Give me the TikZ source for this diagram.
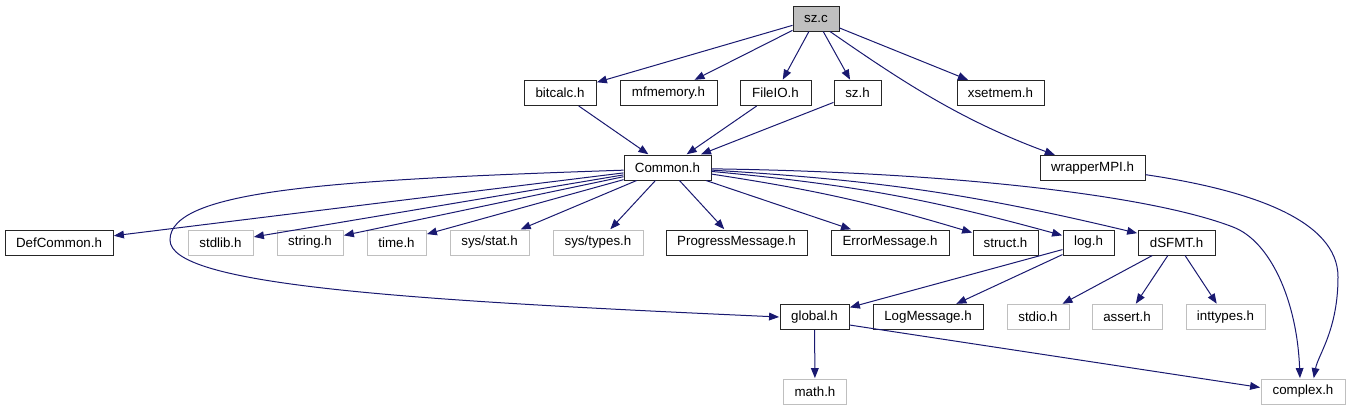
\documentclass[tikz,border=0pt]{standalone}
\usepackage{fontspec}
\setmainfont{Liberation Sans}
\usetikzlibrary{arrows.meta}
\definecolor{edgeblue}{HTML}{191970}
\definecolor{sysgray}{HTML}{BFBFBF}
\begin{document}
\begin{tikzpicture}[x=0.75pt,y=-0.75pt,
  nb/.style={draw=black!85, line width=0.75pt, fill=white, inner sep=0pt, minimum height=18.75pt, font=\fontsize{10}{12}\selectfont},
  sysb/.style={nb, draw=sysgray},
  rootb/.style={nb, fill=sysgray},
  ed/.style={draw=edgeblue, line width=0.75pt, -{Triangle[length=7.5pt,width=5.8pt]}, shorten >=0.3pt}
]
\useasboundingbox (0,0) rectangle (1350,411);
% nodes
\node[rootb, minimum width=34.5pt] (szc) at (816,18.5) {sz.c};
\node[nb, minimum width=54pt] (bitcalc) at (560,93) {bitcalc.h};
\node[nb, minimum width=72.75pt] (mfmemory) at (668.5,93) {mfmemory.h};
\node[nb, minimum width=53.25pt] (fileio) at (775.5,93) {FileIO.h};
\node[nb, minimum width=35.25pt] (szh) at (857.5,93) {sz.h};
\node[nb, minimum width=65.25pt] (xsetmem) at (1000.5,93) {xsetmem.h};
\node[nb, minimum width=65.25pt] (common) at (667.5,167.5) {Common.h};
\node[nb, minimum width=78.75pt] (wrapper) at (1092.5,168) {wrapperMPI.h};
\node[nb, minimum width=81pt] (defcommon) at (59,242.5) {DefCommon.h};
\node[sysb, minimum width=48.75pt] (stdlib) at (220.5,242.5) {stdlib.h};
\node[sysb, minimum width=49.5pt] (string) at (310,242.5) {string.h};
\node[sysb, minimum width=44.25pt] (time) at (396.5,242.5) {time.h};
\node[sysb, minimum width=59.25pt] (sysstat) at (489.5,242.5) {sys/stat.h};
\node[sysb, minimum width=67.5pt] (systypes) at (598,242.5) {sys/types.h};
\node[nb, minimum width=105.75pt] (progress) at (736.5,242.5) {ProgressMessage.h};
\node[nb, minimum width=88.5pt] (error) at (890,242.5) {ErrorMessage.h};
\node[nb, minimum width=48.75pt] (struct) at (1005.5,242.5) {struct.h};
\node[nb, minimum width=38.25pt] (log) at (1088.5,242.5) {log.h};
\node[nb, minimum width=57.75pt] (dsfmt) at (1176.5,242.5) {dSFMT.h};
\node[nb, minimum width=51.75pt] (global) at (814.5,317) {global.h};
\node[nb, minimum width=82.5pt] (logmsg) at (928,317) {LogMessage.h};
\node[sysb, minimum width=46.5pt] (stdio) at (1038,317) {stdio.h};
\node[sysb, minimum width=52.5pt] (assert) at (1127,317) {assert.h};
\node[sysb, minimum width=59.25pt] (inttypes) at (1225.5,317) {inttypes.h};
\node[sysb, minimum width=47.25pt] (math) at (815,391.5) {math.h};
\node[sysb, minimum width=63pt] (complex) at (1303,391.5) {complex.h};
% edges from sz.c
\draw[ed] (szc) -- (bitcalc);
\draw[ed] (szc) -- (mfmemory);
\draw[ed] (szc) -- (fileio);
\draw[ed] (szc) -- (szh);
\draw[ed] (szc) -- (xsetmem);
\draw[ed] ([xshift=10.5pt]szc.south) .. controls (900,80) and (960,120) .. ([xshift=-28pt]wrapper.north);
% into Common.h
\draw[ed] (bitcalc) -- (common);
\draw[ed] (fileio) -- (common);
\draw[ed] (szh) -- (common);
% from Common.h
\draw[ed] (common) -- (defcommon);
\draw[ed] (common) -- (stdlib);
\draw[ed] (common) -- (string);
\draw[ed] (common) -- (time);
\draw[ed] (common) -- (sysstat);
\draw[ed] (common) -- (systypes);
\draw[ed] (common) -- (progress);
\draw[ed] (common) -- (error);
\draw[ed] (common) to[bend left=4] (struct);
\draw[ed] (common) to[bend left=5] (log);
\draw[ed] (common) to[bend left=5] (dsfmt);
\draw[ed] ([yshift=-2pt]common.west) .. controls (330,180) and (170,190) .. (170,240)
   .. controls (170,285) and (400,300) .. (global.west);
\draw[ed] ([yshift=-1pt]common.east) .. controls (950,172) and (1150,195) .. (1233,227)
   .. controls (1270,241) and (1297,300) .. ([xshift=-2.25pt]complex.north);
% wrapperMPI
\draw[ed] ([yshift=-5pt]wrapper.east) .. controls (1250,190) and (1338,220) .. (1338,277)
   .. controls (1338,330) and (1318,355) .. ([xshift=8pt]complex.north);
% log.h
\draw[ed] (log) -- (global);
\draw[ed] (log) -- (logmsg);
% dSFMT
\draw[ed] (dsfmt) -- (stdio);
\draw[ed] (dsfmt) -- (assert);
\draw[ed] (dsfmt) -- (inttypes);
% global
\draw[ed] (global) -- (math);
\draw[ed] ([yshift=-6pt]global.east) -- ([yshift=3pt]complex.west);
\end{tikzpicture}
\end{document}
